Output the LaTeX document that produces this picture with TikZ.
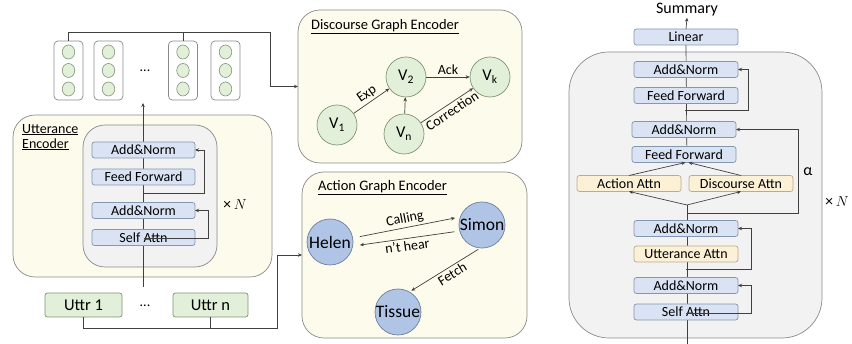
\documentclass[tikz,border=0pt]{standalone}
\usepackage{fontspec}
\setmainfont{Carlito}
\usetikzlibrary{arrows.meta,shapes.geometric,calc}
\pgfdeclarelayer{back}
\pgfdeclarelayer{lines}
\pgfsetlayers{back,lines,main}
\definecolor{lc}{HTML}{404040}
\definecolor{bfill}{HTML}{DAE3F3}
\definecolor{bdraw}{HTML}{8497B0}
\definecolor{yfill}{HTML}{FCF1D6}
\definecolor{ydraw}{HTML}{B9AC8E}
\definecolor{ybg}{HTML}{FDFBEB}
\definecolor{gbg}{HTML}{F2F2F2}
\definecolor{cdraw}{HTML}{8A8A8A}
\definecolor{gfill}{HTML}{E2F0D9}
\definecolor{gdraw}{HTML}{7F9574}
\definecolor{cfill}{HTML}{B0C4E6}
\definecolor{cbdraw}{HTML}{6C7F9F}
\newcommand{\fsz}[1]{\fontsize{#1}{#1}\selectfont}
\begin{document}
\begin{tikzpicture}[x=1pt,y=-1pt,
  cont/.style={draw=cdraw, line width=0.7pt, rounded corners=22pt, inner sep=0pt, outer sep=0pt},
  blk/.style={draw=bdraw, fill=bfill, line width=0.7pt, rounded corners=2.5pt, minimum width=104pt, minimum height=16pt, inner sep=0pt, outer sep=0pt, font=\fsz{14}},
  ylw/.style={blk, draw=ydraw, fill=yfill},
  grn/.style={draw=gdraw, fill=gfill, line width=0.7pt, rounded corners=2.5pt, minimum width=77pt, minimum height=24pt, inner sep=0pt, outer sep=0pt, font=\fsz{16.5}},
  colbox/.style={draw=cdraw, fill=white, line width=0.7pt, rounded corners=4pt, minimum width=29pt, minimum height=59pt, inner sep=0pt, outer sep=0pt},
  gcirc/.style={ellipse, draw=gdraw, fill=gfill, line width=0.6pt, minimum width=12.5pt, minimum height=14pt, inner sep=0pt},
  vnode/.style={circle, draw=gdraw, fill=gfill, line width=0.7pt, minimum size=40pt, inner sep=0pt, font=\fsz{16.5}},
  anode/.style={circle, draw=cbdraw, fill=cfill, line width=0.7pt, minimum size=46pt, inner sep=0pt, font=\fsz{17.5}},
  ln/.style={draw=lc, line width=0.7pt},
  arr/.style={ln, -{Stealth[length=4pt,width=3.5pt]}},
  lbl/.style={font=\fsz{14}, inner sep=2pt},
  ttl/.style={font=\fsz{14.5}, anchor=west, inner sep=0pt}
]
\useasboundingbox (0,0) rectangle (852,344);

% ---------- containers ----------
\begin{pgfonlayer}{back}
\node[cont, fill=ybg, minimum width=259pt, minimum height=162pt] (ue) at (142.5,196) {};
\node[cont, fill=gbg, minimum width=134pt, minimum height=142pt] (uein) at (150,196) {};
\node[cont, fill=ybg, minimum width=224pt, minimum height=153pt] (dge) at (410,86.5) {};
\node[cont, fill=ybg, minimum width=225pt, minimum height=166pt] (age) at (414.5,255) {};
\node[cont, fill=gbg, rounded corners=40pt, minimum width=253pt, minimum height=286pt] (dec) at (695.5,195) {};
\end{pgfonlayer}

% ---------- utterance encoder ----------
\node[anchor=north west, align=left, font=\fsz{14}, inner sep=0pt] (uelbl) at (22,124) {\underline{Utterance}\\[1pt]\underline{Encoder}};
\node[blk, minimum width=103pt] (uan1) at (143.5,150) {Add\&Norm};
\node[blk, minimum width=103pt] (uff) at (143.5,177) {Feed Forward};
\node[blk, minimum width=103pt] (uan2) at (143.5,210.5) {Add\&Norm};
\node[blk, minimum width=103pt] (usa) at (143.5,237.5) {Self Attn};
\node[font=\fsz{15.5}] (uxn) at (235,205) {×\,$N$};

\node[grn] (u1) at (83.5,305) {Uttr 1};
\node[font=\fsz{14}] (udots) at (145,306) {...};
\node[grn, minimum width=75pt] (un) at (210.5,305) {Uttr n};

% stacks
\foreach \i/\x in {1/68.5,2/108.5,3/183,4/225.5}{
  \node[colbox] (c\i) at (\x,70.5) {};
  \foreach \j/\y in {1/52,2/70.5,3/89}{
    \node[gcirc] (c\i\j) at (\x,\y) {};
  }
}
\node[font=\fsz{14}] (cdots) at (145,71) {...};

\coordinate (ubot) at (143,287);
\coordinate (utop) at (143,103);
\coordinate (tr) at (270,32);
\coordinate (bl) at (277,328);

\begin{pgfonlayer}{lines}
\draw[arr] (ubot) -- (utop);
\end{pgfonlayer}
\draw[arr] ($(uff.south)!.5!(uan2.north)$) -| ([xshift=9pt]uan1.east) -- (uan1.east);
\draw[arr] ([yshift=7pt]usa.south) -| ([xshift=13pt]uan2.east) -- (uan2.east);

\draw[arr] (c1.north) |- (tr) |- (dge.west);
\draw[ln] (c3.north) -- (c3.north |- tr);

\draw[arr] (u1.south) |- (bl) |- (age.west);
\draw[ln] (un.south) -- (un.south |- bl);

% ---------- discourse graph ----------
\node[ttl] (dgt) at (311,27) {\underline{Discourse Graph Encoder}};
\node[vnode] (v1) at (337,125) {V\textsubscript{1}};
\node[vnode] (v2) at (406,77) {V\textsubscript{2}};
\node[vnode] (vk) at (490,77) {V\textsubscript{k}};
\node[vnode] (vn) at (404,134) {V\textsubscript{n}};
\draw[arr] (v1) -- node[lbl, sloped, above] {Exp} (v2);
\draw[arr] (v2) -- node[lbl, above] {Ack} (vk);
\draw[arr] (vn) -- (v2);
\draw[arr] (vn) -- node[lbl, sloped, below, pos=0.52] {Correction} (vk);

% ---------- action graph ----------
\node[ttl] (agt) at (318,188) {\underline{Action Graph Encoder}};
\node[anode] (helen) at (330,242) {Helen};
\node[anode] (simon) at (482,225) {Simon};
\node[anode] (tissue) at (398,312) {Tissue};
\draw[arr, shorten <=7pt, shorten >=5pt] (helen.10) -- node[lbl, sloped, above] {Calling} (simon.160);
\draw[arr, shorten <=5pt, shorten >=7pt] (simon.195) -- node[lbl, sloped, below] {n't hear} (helen.350);
\draw[arr, shorten <=2pt, shorten >=2pt] (simon.265) -- node[lbl, sloped, below, pos=0.45] {Fetch} (tissue.60);

% ---------- decoder ----------
\node[font=\fsz{16}, inner sep=1pt] (sum) at (687,10) {Summary};
\node[blk] (lin) at (686,37) {Linear};
\node[blk] (dan1) at (686,69.5) {Add\&Norm};
\node[blk] (dff1) at (686,95.5) {Feed Forward};
\node[blk] (dan2) at (684,129.5) {Add\&Norm};
\node[blk] (dff2) at (684,154.5) {Feed Forward};
\node[ylw] (act) at (629,183.5) {Action Attn};
\node[ylw] (dis) at (741,183.5) {Discourse Attn};
\node[blk] (dan3) at (686,228.5) {Add\&Norm};
\node[ylw] (uatt) at (686,254) {Utterance Attn};
\node[blk] (dan4) at (686,285.5) {Add\&Norm};
\node[blk] (dsa) at (686,312) {Self Attn};
\node[font=\fsz{16}] (alpha) at (808,172) {α};
\node[font=\fsz{15.5}] (dxn) at (837,202) {×\,$N$};

\coordinate (dbot) at (687,344);
\coordinate (split) at (687,205);

\begin{pgfonlayer}{lines}
\draw[ln] (dbot) -- (split);
\draw[ln] (687,163) -- (lin.south);
\end{pgfonlayer}
\draw[arr] (lin.north) -- (sum.south);
\draw[arr] (split) -- (act.south);
\draw[arr] (split) -- (dis.south);
\draw[arr] (act.north) -- ([xshift=-1.5pt]dff2.south -| 687,0);
\draw[arr] (dis.north) -- ([xshift=1.5pt]dff2.south -| 687,0);

\draw[arr] ($(dff1.south)!.4!(dan2.north)$) -| ([xshift=10pt]dan1.east) -- (dan1.east);
\draw[arr] (687,213) -| ([xshift=62pt]dan2.east) -- (dan2.east);
\draw[arr] ($(uatt.south)!.5!(dan4.north)$) -| ([xshift=13pt]dan3.east) -- (dan3.east);
\draw[arr] ([yshift=7pt]dsa.south) -| ([xshift=13pt]dan4.east) -- (dan4.east);
\end{tikzpicture}
\end{document}
